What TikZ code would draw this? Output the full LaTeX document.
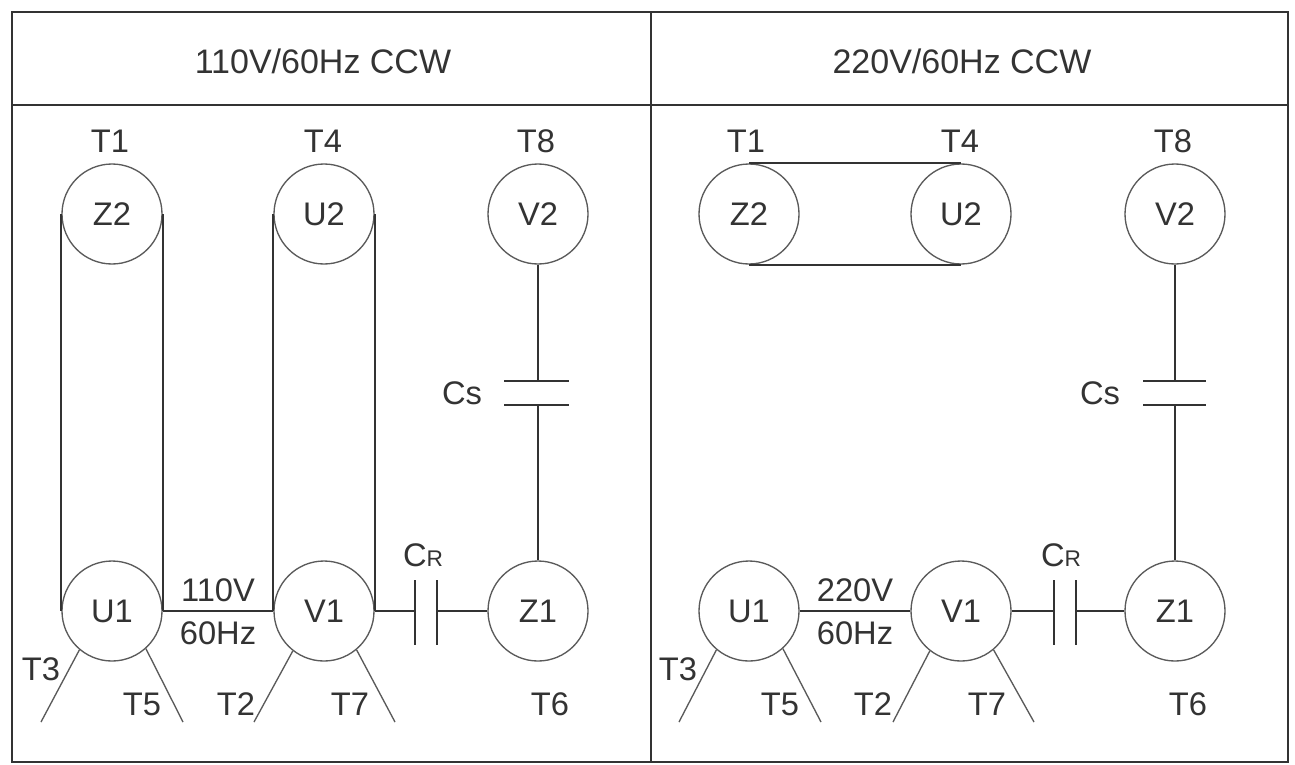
\documentclass[tikz,border=0pt]{standalone}
\usepackage{fontspec}
\setmainfont{Liberation Sans}
\definecolor{ink}{HTML}{333333}
\definecolor{ring}{HTML}{5A5A5A}
\tikzset{
  coil/.style={circle,draw=ring,line width=1pt,minimum size=75pt,inner sep=0pt,font=\fontsize{24.5}{25}\selectfont,text=ink},
  lab/.style={font=\fontsize{24.5}{25}\selectfont,text=ink,inner sep=0pt},
  head/.style={font=\fontsize{25.5}{26}\selectfont,text=ink,inner sep=0pt},
  wire/.style={draw=ink,line width=1.3pt},
  plate/.style={draw=ink,line width=1.4pt},
  lead/.style={draw=ring,line width=1pt},
  frame/.style={draw=ink,line width=1.4pt}
}
\begin{document}
\begin{tikzpicture}[x=0.75pt,y=-0.75pt]
\useasboundingbox (0,0) rectangle (1295,764);
\fill[white] (0,0) rectangle (1295,764);
\coordinate (fa) at (12,12); \coordinate (fb) at (1288,762);
\draw[frame] (fa) rectangle (fb);
\coordinate (ha) at (12,105); \coordinate (hb) at (1288,105);
\draw[frame] (ha) -- (hb);
\coordinate (ma) at (651,12); \coordinate (mb) at (651,762);
\draw[frame] (ma) -- (mb);
\node[head] (h1) at (323,61) {110V/60Hz CCW};
\node[head] (h2) at (962,61) {220V/60Hz CCW};
% left
\node[coil] (lz2) at (112,214) {Z2};
\node[coil] (lu2) at (324,214) {U2};
\node[coil] (lv2) at (538,214) {V2};
\node[coil] (lu1) at (112,611) {U1};
\node[coil] (lv1) at (324,611) {V1};
\node[coil] (lz1) at (538,611) {Z1};
\node[lab] (lt1) at (110,141) {T1};
\node[lab] (lt4) at (323,141) {T4};
\node[lab] (lt8) at (536,141) {T8};
\node[lab] (lt3) at (41,669) {T3};
\node[lab] (lt5) at (142,704) {T5};
\node[lab] (lt2) at (236,704) {T2};
\node[lab] (lt7) at (350,704) {T7};
\node[lab] (lt6) at (550,704) {T6};
\draw[wire] (lz2.west) -- (lu1.west);
\draw[wire] (lz2.east) -- (lu1.east);
\draw[wire] (lu2.west) -- (lv1.west);
\draw[wire] (lu2.east) -- (lv1.east);
\draw[wire] (lu1.east) -- (lv1.west);
\node[lab] (lv) at (218,590) {110V};
\node[lab] (lf) at (218,633) {60Hz};
\coordinate (lcs1) at (538,381); \coordinate (lcs2) at (538,405);
\draw[wire] (lv2.south) -- (lcs1);
\draw[wire] (lcs2) -- (lz1.north);
\coordinate (lcs1a) at (504,381); \coordinate (lcs1b) at (569,381);
\coordinate (lcs2a) at (504,405); \coordinate (lcs2b) at (569,405);
\draw[plate] (lcs1a) -- (lcs1b);
\draw[plate] (lcs2a) -- (lcs2b);
\node[lab] (lcs) at (462,393) {Cs};
\coordinate (lcr1) at (415,611); \coordinate (lcr2) at (437,611);
\draw[wire] (lv1.east) -- (lcr1);
\draw[wire] (lcr2) -- (lz1.west);
\coordinate (lcr1a) at (415,580); \coordinate (lcr1b) at (415,645);
\coordinate (lcr2a) at (437,580); \coordinate (lcr2b) at (437,645);
\draw[plate] (lcr1a) -- (lcr1b);
\draw[plate] (lcr2a) -- (lcr2b);
\node[lab] (lcr) at (423,555) {C\fontsize{17}{17}\selectfont R};
\coordinate (le3) at (41,722); \coordinate (le5) at (183,722); \coordinate (le2) at (254,722); \coordinate (le7) at (395,722);
\draw[lead] (lu1.230) -- (le3);
\draw[lead] (lu1.-48) -- (le5);
\draw[lead] (lv1.232) -- (le2);
\draw[lead] (lv1.-50) -- (le7);
% right
\node[coil] (rz2) at (749,214) {Z2};
\node[coil] (ru2) at (961,214) {U2};
\node[coil] (rv2) at (1175,214) {V2};
\node[coil] (ru1) at (749,611) {U1};
\node[coil] (rv1) at (961,611) {V1};
\node[coil] (rz1) at (1175,611) {Z1};
\node[lab] (rt1) at (746,141) {T1};
\node[lab] (rt4) at (960,141) {T4};
\node[lab] (rt8) at (1173,141) {T8};
\node[lab] (rt3) at (678,669) {T3};
\node[lab] (rt5) at (780,704) {T5};
\node[lab] (rt2) at (873,704) {T2};
\node[lab] (rt7) at (987,704) {T7};
\node[lab] (rt6) at (1188,704) {T6};
\draw[wire] (rz2.north) -- (ru2.north);
\draw[wire] (rz2.south) -- (ru2.south);
\draw[wire] (ru1.east) -- (rv1.west);
\node[lab] (rv) at (855,590) {220V};
\node[lab] (rf) at (855,633) {60Hz};
\coordinate (rcs1) at (1175,381); \coordinate (rcs2) at (1175,405);
\draw[wire] (rv2.south) -- (rcs1);
\draw[wire] (rcs2) -- (rz1.north);
\coordinate (rcs1a) at (1143,381); \coordinate (rcs1b) at (1206,381);
\coordinate (rcs2a) at (1143,405); \coordinate (rcs2b) at (1206,405);
\draw[plate] (rcs1a) -- (rcs1b);
\draw[plate] (rcs2a) -- (rcs2b);
\node[lab] (rcs) at (1100,393) {Cs};
\coordinate (rcr1) at (1054,611); \coordinate (rcr2) at (1076,611);
\draw[wire] (rv1.east) -- (rcr1);
\draw[wire] (rcr2) -- (rz1.west);
\coordinate (rcr1a) at (1054,580); \coordinate (rcr1b) at (1054,645);
\coordinate (rcr2a) at (1076,580); \coordinate (rcr2b) at (1076,645);
\draw[plate] (rcr1a) -- (rcr1b);
\draw[plate] (rcr2a) -- (rcr2b);
\node[lab] (rcr) at (1061,555) {C\fontsize{17}{17}\selectfont R};
\coordinate (re3) at (679,722); \coordinate (re5) at (821,722); \coordinate (re2) at (893,722); \coordinate (re7) at (1034,722);
\draw[lead] (ru1.230) -- (re3);
\draw[lead] (ru1.-48) -- (re5);
\draw[lead] (rv1.232) -- (re2);
\draw[lead] (rv1.-50) -- (re7);
\end{tikzpicture}
\end{document}
